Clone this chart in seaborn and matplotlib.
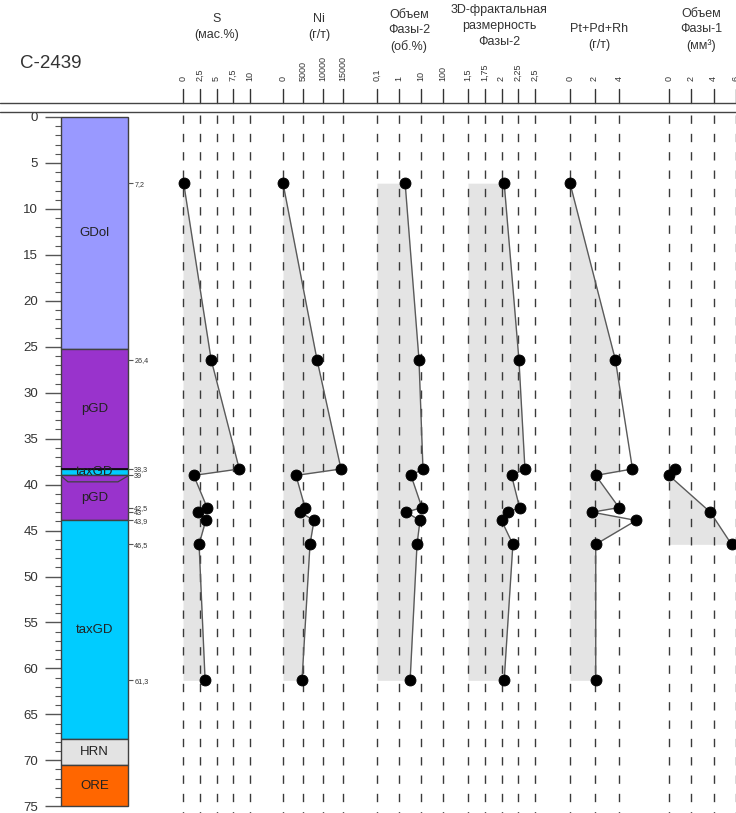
import matplotlib.pyplot as plt
import numpy as np
import seaborn as sns
from matplotlib.patches import Polygon, Rectangle

# %% data
depth = [7.2, 26.4, 38.3, 39.0, 42.5, 43.0, 43.9, 46.5, 61.3]
depth_labels = ["7,2", "26,4", "38,3", "39", "42,5", "43", "43,9", "46,5", "61,3"]
sulfur = [0.1, 4.2, 8.4, 1.6, 3.6, 2.3, 3.4, 2.4, 3.3]
nickel = [0, 8500, 14500, 3250, 5500, 4250, 7750, 6750, 4750]
phase2_vol = [1.9, 8.1, 12.3, 3.5, 11.0, 2.1, 9.0, 6.6, 3.2]
fractal_dim = [2.04, 2.26, 2.35, 2.15, 2.27, 2.10, 2.00, 2.17, 2.04]
pgm = [0.0, 3.7, 5.1, 2.1, 4.0, 1.8, 5.4, 2.1, 2.1]
phase1_depth = [38.3, 39.0, 43.0, 46.5]
phase1_vol = [0.55, 0.0, 3.7, 5.6]

litho_names = ["GDol", "pGD", "taxGD", "pGD", "taxGD", "HRN", "ORE"]
litho_top = [0, 25.2, 38.3, 39.0, 43.9, 67.7, 70.5]
litho_bottom = [25.2, 38.3, 39.0, 43.9, 67.7, 70.5, 75]
litho_colors = ["#9999ff", "#9933cc", "#00ccff", "#9933cc", "#00ccff", "#e3e3e3", "#ff6600"]

s_ticks = [0, 2.5, 5, 7.5, 10]
s_labels = ["0", "2,5", "5", "7,5", "10"]
ni_ticks = [0, 5000, 10000, 15000]
ni_labels = ["0", "5000", "10000", "15000"]
ph2_ticks = [0.1, 1, 10, 100]
ph2_labels = ["0,1", "1", "10", "100"]
fd_ticks = [1.5, 1.75, 2, 2.25, 2.5]
fd_labels = ["1,5", "1,75", "2", "2,25", "2,5"]
pgm_ticks = [0, 2, 4]
pgm_labels = ["0", "2", "4"]
ph1_ticks = [0, 2, 4, 6]
ph1_labels = ["0", "2", "4", "6"]

# %% layout (pixels)
W, H = 736, 813
Y_TOP, Y_BOT = 115, 813
PX_PER_M, Y0 = 9.19, 117
d_top = (Y_TOP - Y0) / PX_PER_M
d_bot = (Y_BOT - Y0) / PX_PER_M

sns.set_style("white")
plt.rcParams["font.family"] = ["Liberation Sans", "DejaVu Sans"]

fig = plt.figure(figsize=(W / 100, H / 100), dpi=100)


def add_px_axes(x0, x1, y0, y1):
    return fig.add_axes([x0 / W, 1 - y1 / H, (x1 - x0) / W, (y1 - y0) / H])


# %% lithology column
ax = add_px_axes(61, 128, Y_TOP, Y_BOT)
ax.set_xlim(0, 1)
ax.set_ylim(d_bot, d_top)
for name, top, bot, col in zip(litho_names, litho_top, litho_bottom, litho_colors):
    ax.add_patch(Rectangle((0, top), 1, bot - top, facecolor=col, edgecolor="#404040", lw=1, clip_on=False))
    ax.text(0.5, (top + bot) / 2, name, ha="center", va="center", fontsize=9.5, color="#222222")
ax.add_patch(Polygon([(0, 39.05), (0.104, 39.7), (0.85, 39.7), (1, 39.05)], closed=False,
                     fill=False, edgecolor="#404040", lw=0.9))
ax.axhline(38.3, color="black", lw=1.1)
for sp in ax.spines.values():
    sp.set_visible(False)
ax.set_xticks([])
ax.set_yticks(range(0, 80, 5))
ax.set_yticks(range(0, 76), minor=True)
ax.tick_params(axis="y", which="major", left=True, length=11.5, width=1, color="#555555",
               labelsize=9.5, pad=5, labelcolor="#333333")
ax.tick_params(axis="y", which="minor", left=True, length=4.5, width=0.8, color="#555555")

ax2 = ax.twinx()
ax2.set_ylim(d_bot, d_top)
ax2.set_yticks(depth)
ax2.set_yticklabels(depth_labels)
ax2.tick_params(axis="y", right=True, length=3.5, width=0.8, color="#555555", labelsize=5.2,
                pad=1, labelcolor="#333333")
for sp in ax2.spines.values():
    sp.set_visible(False)

# %% data panels
panels = [
    ("S\n(мас.%)", sulfur, depth, s_ticks, s_labels, "linear", 183, 250, 27, 217),
    ("Ni\n(г/т)", nickel, depth, ni_ticks, ni_labels, "linear", 283, 343, 27, 319),
    ("Объем\nФазы-2\n(об.%)", phase2_vol, depth, ph2_ticks, ph2_labels, "log", 377, 443, 31, 409),
    ("3D-фрактальная\nразмерность\nФазы-2", fractal_dim, depth, fd_ticks, fd_labels, "linear", 468, 535, 26, 499),
    ("Pt+Pd+Rh\n(г/т)", pgm, depth, pgm_ticks, pgm_labels, "linear", 570, 619, 37, 599),
    ("Объем\nФазы-1\n(мм³)", phase1_vol, phase1_depth, ph1_ticks, ph1_labels, "linear", 669, 736, 30, 701),
]

for title, vals, dep, ticks, labels, scale, x0, x1, ty, tx in panels:
    ax = add_px_axes(x0, x1, Y_TOP, Y_BOT)
    if scale == "log":
        ax.set_xscale("log")
    ax.set_xlim(ticks[0], ticks[-1])
    ax.set_ylim(d_bot, d_top)
    for t in ticks:
        ax.plot([t, t], [d_top, d_bot], color="#3a3a3a", lw=1, dashes=(6, 7.2), zorder=1, clip_on=False)
    ax.fill_betweenx(dep, ticks[0], vals, color="#e4e4e4", lw=0, zorder=0)
    sns.lineplot(x=vals, y=dep, orient="y", sort=False, color="#5a5a5a", lw=1, ax=ax,
                 zorder=2, clip_on=False)
    sns.scatterplot(x=vals, y=dep, color="black", s=62, edgecolor="black", ax=ax, zorder=3,
                    clip_on=False)
    ax.axis("off")

    hx = add_px_axes(x0, x1, 89, 103)
    if scale == "log":
        hx.set_xscale("log")
    hx.set_xlim(ticks[0], ticks[-1])
    hx.set_ylim(0, 1)
    for t in ticks:
        hx.plot([t, t], [0, 1], color="#333333", lw=1, clip_on=False)
    for sp in hx.spines.values():
        sp.set_visible(False)
    hx.set_yticks([])
    hx.xaxis.tick_top()
    hx.set_xticks(ticks)
    hx.set_xticklabels(labels)
    hx.xaxis.set_minor_locator(plt.NullLocator())
    hx.tick_params(axis="x", length=0, pad=5.5, labelsize=6.5, labelrotation=90, labelcolor="#333333")

    fig.text(tx / W, 1 - ty / H, title, ha="center", va="center", fontsize=9,
             linespacing=1.4, color="#333333")

# %% header
fig.text(20 / W, 1 - 63 / H, "С-2439", ha="left", va="center", fontsize=13.5, color="#333333")
for yy in (103, 112):
    fig.add_artist(plt.Line2D([0, 1], [1 - yy / H, 1 - yy / H], transform=fig.transFigure,
                              color="#444444", lw=1))

fig.savefig("out.png", dpi=100)
